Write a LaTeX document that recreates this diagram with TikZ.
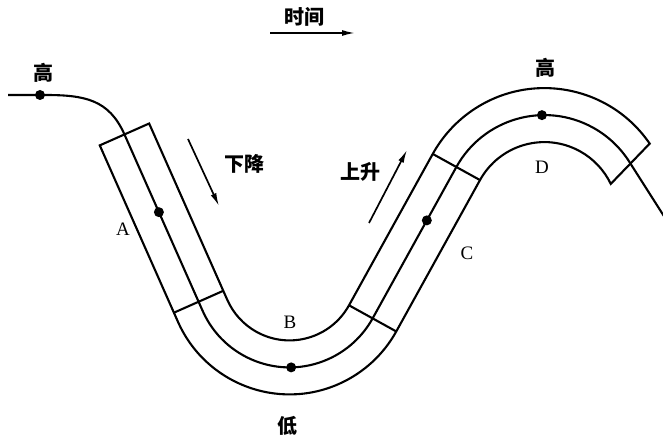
\documentclass[tikz,border=0pt]{standalone}
\usepackage{fontspec}
\setmainfont{Liberation Serif}
\newfontfamily\cjk{Noto Sans CJK SC}
\usetikzlibrary{calc,arrows.meta}
\begin{document}
\begin{tikzpicture}[x=1pt,y=1pt,
  curve/.style={line width=2.1pt,line join=miter},
  dot/.style={circle,fill,inner sep=0pt,minimum size=10pt},
  zh/.style={font=\cjk\bfseries\fontsize{20}{20}\selectfont,inner sep=0pt},
  lbl/.style={font=\fontsize{19}{19}\selectfont,inner sep=0pt},
  arr/.style={line width=1.7pt,-{Latex[length=13pt,width=6pt]}}]
\useasboundingbox (0,0) rectangle (663,439);
\coordinate (Cb) at (289.5,166.6);
\coordinate (T1) at ($(Cb)+(203.9:95)$);
\coordinate (P1) at ($(T1)+(113.9:193)$);
\coordinate (T2) at ($(Cb)+(331.05:95)$);
\coordinate (T3) at ($(T2)+(61.05:173)$);
\coordinate (Cd) at ($(T3)+(331.05:100.6)$);
\coordinate (Ab) at ($(T1)+(113.9:10)$);
\coordinate (S0) at (8,344);
% centre line
\draw[curve] (S0) -- (45,344) .. controls (85,344) and ($(P1)+(113.9:38)$) .. (P1)
  -- (T1) arc[start angle=203.9,end angle=331.05,radius=95]
  -- (T3) arc[start angle=151.05,end angle=32.5,radius=100.6] -- ++(302.5:80);
% band outline
\draw[curve] ($(P1)+(23.9:27)$) -- ($(P1)+(203.9:27)$)
  -- ($(Cb)+(203.9:122)$) arc[start angle=203.9,end angle=331.05,radius=122]
  -- ($(Cd)+(151.05:73.6)$) arc[start angle=151.05,end angle=25.6,radius=73.6]
  -- ($(Cd)+(34.4:127.6)$) arc[start angle=34.4,end angle=151.05,radius=127.6]
  -- ($(Cb)+(331.05:68)$) arc[start angle=331.05,end angle=203.9,radius=68]
  -- cycle;
% cuts
\draw[curve] ($(Ab)+(203.9:27)$) -- ($(Ab)+(23.9:27)$);
\draw[curve] ($(Cb)+(331.05:68)$) -- ($(Cb)+(331.05:122)$);
\draw[curve] ($(T3)+(151.05:27)$) -- ($(T3)+(331.05:27)$);
% dots
\node[dot] (h1) at (40,344) {};
\node[dot] (pa) at ($(P1)+(293.9:85)$) {};
\node[dot] (pb) at ($(Cb)+(271:95)$) {};
\node[dot] (pc) at ($(T2)+(61.05:112)$) {};
\node[dot] (pd) at ($(Cd)+(91.4:100.6)$) {};
% labels
\node[zh] (gao1) at (43,366) {高};
\node[zh] (gao2) at (545,371) {高};
\node[zh] (di) at (287,13.5) {低};
\node[zh] (shijian) at (304,422) {时间};
\node[zh] (xj) at (244,275) {下降};
\node[zh] (ss) at (360,267) {上升};
\node[lbl] (la) at (123,210) {A};
\node[lbl] (lb) at (290,117) {B};
\node[lbl] (lc) at (467,186) {C};
\node[lbl] (ld) at (542,272) {D};
% arrows
\coordinate (t0) at (270,406);
\coordinate (t1) at (355,406);
\coordinate (x0) at (188,300);
\coordinate (x1) at (219,233);
\coordinate (s0) at (369,216);
\coordinate (s1) at (407,289);
\draw[arr] (t0) -- (t1);
\draw[arr] (x0) -- (x1);
\draw[arr] (s0) -- (s1);
\end{tikzpicture}
\end{document}
